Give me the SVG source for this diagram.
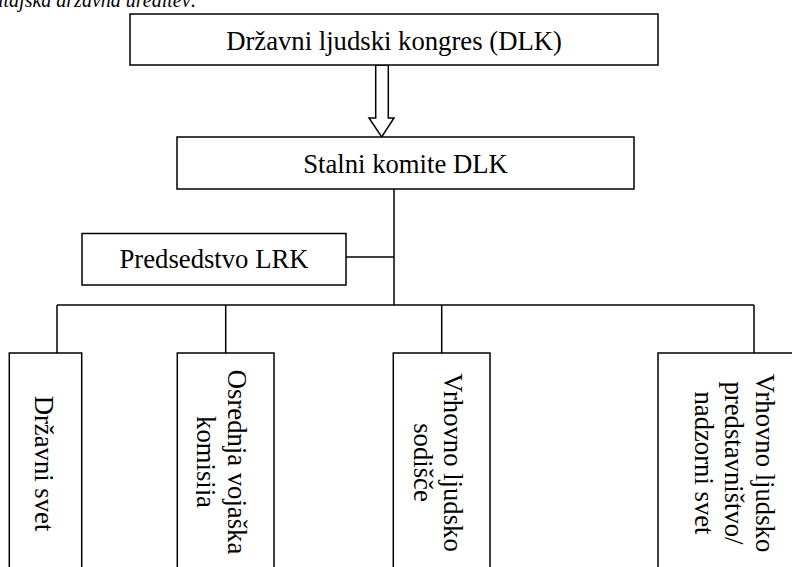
<svg xmlns="http://www.w3.org/2000/svg" width="792" height="567" viewBox="0 0 792 567">
  <style>
    .box { fill: #ffffff; stroke: #000000; stroke-width: 1.5; }
    .line { fill: none; stroke: #000000; stroke-width: 1.5; }
    .lbl { font-family: "Liberation Serif", "Times New Roman", serif; font-size: 26.7px; fill: #000000; text-anchor: middle; }
    .head { font-family: "Liberation Serif", "Times New Roman", serif; font-size: 20px; font-style: italic; fill: #000000; }
  </style>
  <defs>
    <clipPath id="clipK">
      <rect x="196" y="300" width="100" height="267"/>
    </clipPath>
  </defs>
  <rect x="0" y="0" width="792" height="567" fill="#ffffff"/>
  <text class="head" x="-2" y="6.5">itajska državna ureditev:</text>

  <g id="connectors">
    <polygon class="box" points="375.7,65 388.3,65 388.3,118 394,118 381.7,137 369,118 375.7,118"/>
    <line class="line" x1="394" y1="189" x2="394" y2="305"/>
    <line class="line" x1="346" y1="257" x2="394" y2="257"/>
    <line class="line" x1="57" y1="305" x2="754" y2="305"/>
    <line class="line" x1="57" y1="305" x2="57" y2="353"/>
    <line class="line" x1="225.7" y1="305" x2="225.7" y2="353"/>
    <line class="line" x1="441.7" y1="305" x2="441.7" y2="353"/>
    <line class="line" x1="754" y1="305" x2="754" y2="353"/>
  </g>

  <g id="dlk">
    <rect class="box" x="130" y="14" width="528" height="51"/>
    <text class="lbl" x="394" y="50">Državni ljudski kongres (DLK)</text>
  </g>

  <g id="stalni">
    <rect class="box" x="177" y="137" width="457" height="52"/>
    <text class="lbl" x="405.5" y="173">Stalni komite DLK</text>
  </g>

  <g id="predsedstvo">
    <rect class="box" x="82" y="233.5" width="264" height="51.5"/>
    <text class="lbl" x="214" y="268">Predsedstvo LRK</text>
  </g>

  <g id="drzavni-svet">
    <rect class="box" x="9.3" y="353" width="72.4" height="230"/>
    <text class="lbl" transform="translate(35,463.5) rotate(90)" x="0" y="0">Državni svet</text>
  </g>

  <g id="vojaska">
    <rect class="box" x="177.3" y="353" width="96.7" height="230"/>
    <g clip-path="url(#clipK)">
      <text class="lbl" transform="translate(227.5,462) rotate(90)"><tspan x="0" y="0">Osrednja vojaška</tspan><tspan x="0" y="30.5">komisija</tspan></text>
    </g>
  </g>

  <g id="sodisce">
    <rect class="box" x="393.3" y="353" width="96.7" height="230"/>
    <text class="lbl" transform="translate(444,462.5) rotate(90)"><tspan x="0" y="0">Vrhovno ljudsko</tspan><tspan x="0" y="30.5">sodišče</tspan></text>
  </g>

  <g id="predstavnistvo">
    <rect class="box" x="658" y="353" width="172" height="230"/>
    <text class="lbl" transform="translate(755.5,463) rotate(90)"><tspan x="0" y="0">Vrhovno ljudsko</tspan><tspan x="0" y="30.5">predstavništvo/</tspan><tspan x="0" y="61">nadzorni svet</tspan></text>
  </g>
</svg>
